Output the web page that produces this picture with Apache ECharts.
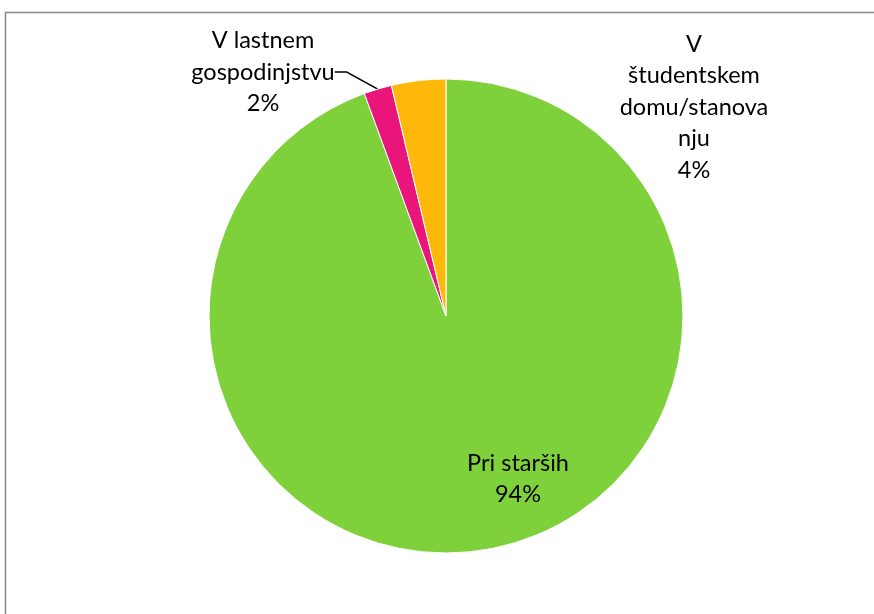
<!DOCTYPE html>
<html>
<head>
<meta charset="utf-8">
<style>
  html, body { margin: 0; padding: 0; background: #fff; }
  #main { width: 874px; height: 614px; }
</style>
</head>
<body>
<div id="main"></div>
<script src="https://cdn.jsdelivr.net/npm/echarts@6/dist/echarts.min.js"></script>
<script>
    // podatki
    var categories = ['Pri starših', 'V lastnem\ngospodinjstvu', 'V\nštudentskem\ndomu/stanova\nnju'];
    var values = [94.4, 1.9, 3.7];
    var colors = ['#7FD13B', '#EA157A', '#FEB80A'];

    // položaji oznak (center besedila)
    var labelPos = [[518, 479], [263, 72], [694, 107]];

    var myChart = echarts.init(document.getElementById('main'));

    var pieData = categories.map(function (name, i) {
        return {
            name: name,
            value: values[i],
            itemStyle: {color: colors[i]},
            label: {position: i === 0 ? 'inside' : 'outside'},
            labelLine: {show: i === 1}
        };
    });

    var option = {
        animation: false,
        graphic: [{
            type: 'rect',
            shape: {x: 5.5, y: 12.5, width: 1000, height: 1000},
            style: {fill: 'none', stroke: '#888', lineWidth: 1.5},
            silent: true
        }],
        series: [{
            type: 'pie',
            center: [446, 316],
            radius: [0, 237],
            startAngle: 90,
            clockwise: true,
            data: pieData,
            itemStyle: {borderColor: '#fff', borderWidth: 1},
            label: {
                formatter: function (p) {
                    return p.name + '\n' + Math.round(p.percent) + '%';
                },
                fontFamily: 'Lato',
                fontSize: 23.5,
                lineHeight: 31.5,
                color: '#000',
                align: 'center'
            },
            labelLine: {
                lineStyle: {color: '#000', width: 1.5},
                length: 10,
                length2: 12
            },
            labelLayout: function (params) {
                var p = labelPos[params.dataIndex];
                return {x: p[0], y: p[1], align: 'center', verticalAlign: 'middle'};
            }
        }]
    };
    myChart.setOption(option);
</script>
</body>
</html>
